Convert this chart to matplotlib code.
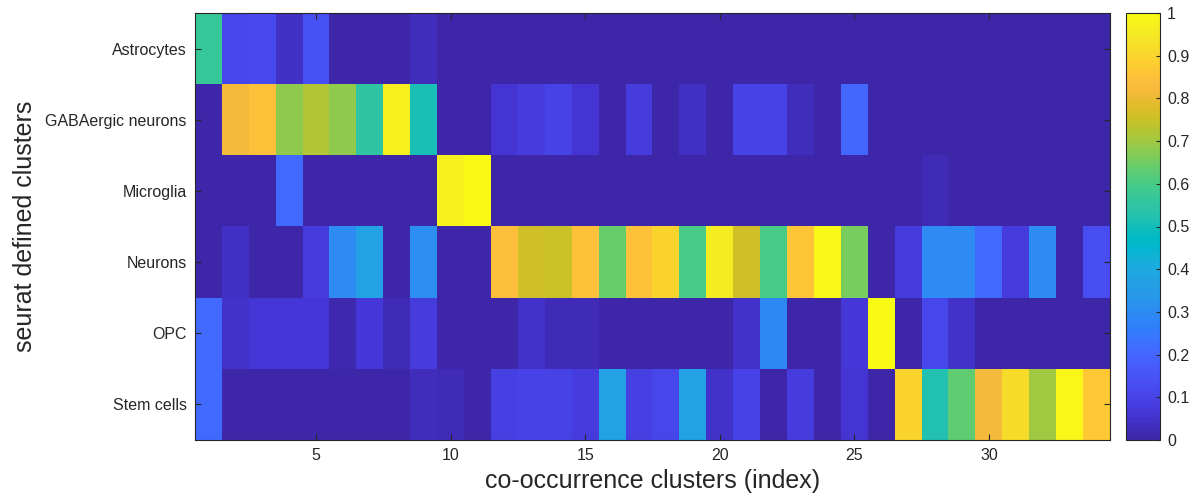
import numpy as np
import matplotlib
matplotlib.use('Agg')
import matplotlib.pyplot as plt
from matplotlib.colors import LinearSegmentedColormap

plt.rcParams['font.family'] = ['Liberation Sans', 'DejaVu Sans']

# parula (64 entries)
parula_rgb = [
    (0.2422, 0.1504, 0.6603), (0.2504, 0.1650, 0.7076), (0.2578, 0.1818, 0.7511), (0.2647, 0.1978, 0.7952),
    (0.2706, 0.2147, 0.8364), (0.2751, 0.2342, 0.8710), (0.2783, 0.2559, 0.8991), (0.2803, 0.2782, 0.9221),
    (0.2813, 0.3006, 0.9414), (0.2810, 0.3228, 0.9579), (0.2795, 0.3447, 0.9717), (0.2760, 0.3667, 0.9829),
    (0.2699, 0.3892, 0.9906), (0.2602, 0.4123, 0.9952), (0.2440, 0.4358, 0.9988), (0.2206, 0.4603, 0.9973),
    (0.1963, 0.4847, 0.9892), (0.1834, 0.5074, 0.9798), (0.1786, 0.5289, 0.9682), (0.1764, 0.5499, 0.9520),
    (0.1687, 0.5703, 0.9359), (0.1540, 0.5902, 0.9218), (0.1460, 0.6091, 0.9079), (0.1380, 0.6276, 0.8973),
    (0.1248, 0.6459, 0.8883), (0.1113, 0.6635, 0.8763), (0.0952, 0.6798, 0.8598), (0.0689, 0.6948, 0.8394),
    (0.0297, 0.7082, 0.8163), (0.0036, 0.7203, 0.7917), (0.0067, 0.7312, 0.7660), (0.0433, 0.7411, 0.7394),
    (0.0964, 0.7500, 0.7120), (0.1408, 0.7584, 0.6842), (0.1717, 0.7670, 0.6554), (0.1938, 0.7758, 0.6251),
    (0.2161, 0.7843, 0.5923), (0.2470, 0.7918, 0.5567), (0.2906, 0.7973, 0.5188), (0.3406, 0.8008, 0.4789),
    (0.3909, 0.8029, 0.4354), (0.4456, 0.8024, 0.3909), (0.5044, 0.7993, 0.3480), (0.5616, 0.7942, 0.3045),
    (0.6174, 0.7876, 0.2612), (0.6720, 0.7793, 0.2227), (0.7242, 0.7698, 0.1910), (0.7738, 0.7598, 0.1646),
    (0.8203, 0.7498, 0.1535), (0.8634, 0.7406, 0.1596), (0.9035, 0.7330, 0.1774), (0.9393, 0.7288, 0.2100),
    (0.9728, 0.7298, 0.2394), (0.9956, 0.7434, 0.2371), (0.9970, 0.7659, 0.2199), (0.9952, 0.7893, 0.2028),
    (0.9892, 0.8136, 0.1885), (0.9786, 0.8386, 0.1766), (0.9676, 0.8639, 0.1643), (0.9610, 0.8890, 0.1537),
    (0.9597, 0.9135, 0.1423), (0.9628, 0.9373, 0.1265), (0.9691, 0.9606, 0.1064), (0.9769, 0.9839, 0.0805),
]
parula = LinearSegmentedColormap.from_list('parula', parula_rgb)

cell_types = ['Astrocytes', 'GABAergic neurons', 'Microglia', 'Neurons', 'OPC', 'Stem cells']

# one row per seurat cluster, 34 co-occurrence clusters each
astrocytes = [0.57, 0.11, 0.12, 0.04, 0.14, 0, 0, 0, 0.03, 0, 0, 0, 0, 0, 0, 0, 0,
              0, 0, 0, 0, 0, 0, 0, 0, 0, 0, 0, 0, 0, 0, 0, 0, 0]
gabaergic = [0, 0.82, 0.85, 0.68, 0.72, 0.68, 0.55, 0.97, 0.51, 0, 0, 0.06, 0.08, 0.10, 0.06, 0, 0.08,
             0, 0.04, 0, 0.10, 0.10, 0.03, 0, 0.20, 0, 0, 0, 0, 0, 0, 0, 0, 0]
microglia = [0, 0, 0, 0.21, 0, 0, 0, 0, 0, 0.97, 1.0, 0, 0, 0, 0, 0, 0,
             0, 0, 0, 0, 0, 0, 0, 0, 0, 0, 0.02, 0, 0, 0, 0, 0, 0]
neurons = [0, 0.04, 0, 0, 0.08, 0.30, 0.37, 0, 0.31, 0, 0, 0.84, 0.76, 0.75, 0.85, 0.64, 0.85,
           0.90, 0.60, 0.96, 0.76, 0.60, 0.86, 0.99, 0.66, 0, 0.08, 0.30, 0.30, 0.21, 0.08, 0.30, 0, 0.13]
opc = [0.21, 0.05, 0.07, 0.07, 0.07, 0.01, 0.07, 0.02, 0.08, 0, 0, 0, 0.05, 0.02, 0.02, 0, 0,
       0, 0, 0, 0.05, 0.29, 0, 0, 0.07, 1.0, 0, 0.11, 0.05, 0, 0, 0, 0, 0]
stem_cells = [0.21, 0, 0, 0, 0, 0, 0, 0, 0.03, 0.02, 0, 0.09, 0.10, 0.10, 0.08, 0.37, 0.09,
              0.11, 0.37, 0.05, 0.10, 0, 0.08, 0, 0.06, 0, 0.90, 0.52, 0.63, 0.82, 0.92, 0.70, 0.99, 0.87]

data = np.array([astrocytes, gabaergic, microglia, neurons, opc, stem_cells])
n_rows, n_cols = data.shape

fig = plt.figure(figsize=(11.89, 5.0), dpi=100)
ax = fig.add_axes([195 / 1189, 60 / 500, 915 / 1189, 427 / 500])
im = ax.imshow(data, cmap=parula, vmin=0, vmax=1, aspect='auto', interpolation='nearest',
               extent=(0.5, n_cols + 0.5, n_rows + 0.5, 0.5))

txt = '#262626'
ax.set_xticks([5, 10, 15, 20, 25, 30])
ax.set_yticks(np.arange(1, n_rows + 1))
ax.set_yticklabels(cell_types)
ax.tick_params(direction='in', top=True, right=True, length=4, width=0.8,
               colors=txt, labelsize=11.5, pad=6)
for s in ax.spines.values():
    s.set_color(txt)
    s.set_linewidth(0.8)
ax.set_xlabel('co-occurrence clusters (index)', fontsize=18, color=txt, labelpad=4)
ax.set_ylabel('seurat defined clusters', fontsize=18, color=txt, labelpad=6)

cax = fig.add_axes([1126 / 1189, 60 / 500, 34 / 1189, 427 / 500])
cb = fig.colorbar(im, cax=cax)
cb.set_ticks(np.arange(0, 1.01, 0.1))
cb.set_ticklabels(['0', '0.1', '0.2', '0.3', '0.4', '0.5', '0.6', '0.7', '0.8', '0.9', '1'])
cax.tick_params(direction='in', length=3, width=0.8, colors=txt, labelsize=11.5, pad=5)
cb.outline.set_edgecolor(txt)
cb.outline.set_linewidth(0.8)

fig.savefig('out.png', dpi=100)
